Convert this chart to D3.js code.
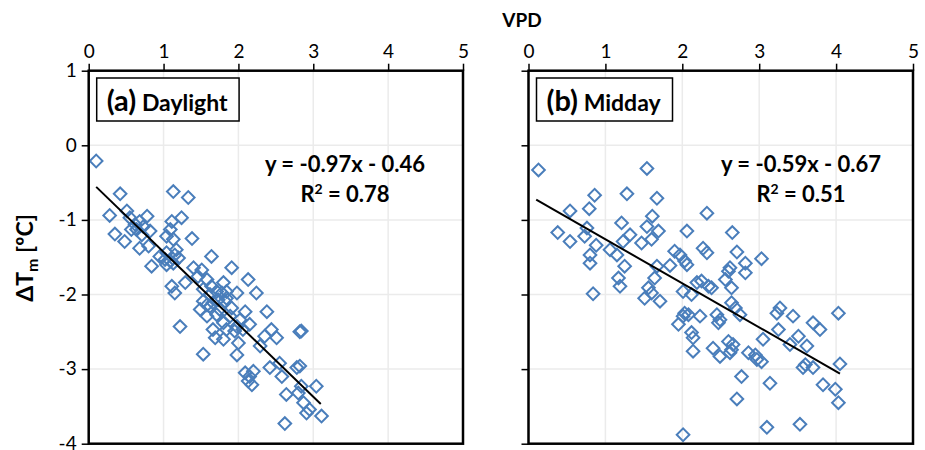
<!DOCTYPE html>
<html>
<head>
<meta charset="utf-8">
<script src="https://cdnjs.cloudflare.com/ajax/libs/d3/7.8.5/d3.min.js"></script>
<style>
body { margin: 0; background: #fff; }
text { font-family: Lato, "Open Sans", sans-serif; }
</style>
</head>
<body>
<svg id="myChart" width="925" height="450"></svg>
<script>
// axis ticks
const xTicks = [0, 1, 2, 3, 4, 5];
const yTicks = [1, 0, -1, -2, -3, -4];

// panel texts and fitted lines
const panelLabels = ["(a)", "(b)"];
const panelNames = ["Daylight", "Midday"];
const equations = ["y = -0.97x - 0.46", "y = -0.59x - 0.67"];
const rSquared = ["0.78", "0.51"];
const fitSlope = [-0.97, -0.59];
const fitIntercept = [-0.46, -0.67];
const fitFrom = [0.1, 0.1];
const fitTo = [3.1, 4.05];

// (a) daylight
const daylightVpd = [0.10, 0.42, 0.28, 0.51, 0.55, 0.35, 0.48, 0.62, 0.68, 0.78, 0.73, 0.64, 0.57, 0.71, 0.68,
    0.80, 0.82, 0.84, 0.95, 1.04, 1.13, 1.33, 1.11, 1.24, 1.09, 1.04, 1.38, 1.13, 1.17, 1.15, 1.20, 1.09, 1.04,
    1.64, 1.40, 1.51, 1.91, 2.13, 1.29, 1.46, 1.58, 1.64, 1.80, 1.71, 1.11, 1.15, 1.84, 1.98, 2.24,
    1.13, 1.02, 1.22, 1.53, 2.38, 2.09, 2.15, 2.02, 1.95, 1.84, 1.69, 1.80, 2.00, 1.98, 1.66, 1.58, 1.49, 1.62,
    1.75, 1.71, 1.53, 1.82, 1.91, 2.06, 2.29, 2.35, 2.44, 2.51, 2.84, 2.82, 2.09, 2.15, 2.13, 2.18, 2.20, 2.42,
    2.55, 2.58, 2.78, 2.82, 2.64, 2.80, 2.84, 3.04, 2.87, 2.91, 2.95, 3.11, 2.62, 1.53, 1.62, 1.73, 1.78, 1.84,
    1.58, 1.66, 1.89, 1.80, 1.98];
const daylightDt = [-0.21, -0.65, -0.94, -0.88, -0.97, -1.19, -1.29, -1.06, -1.02, -0.95, -1.09, -1.13, -1.13, -1.20, -1.38,
    -1.35, -1.15, -1.62, -1.49, -1.44, -0.62, -0.70, -1.02, -0.97, -1.13, -1.22, -1.25, -1.26, -1.40, -1.47, -1.51, -1.55, -1.60,
    -1.49, -1.64, -1.67, -1.64, -1.80, -1.84, -1.76, -1.80, -1.89, -1.84, -1.96, -1.89, -1.98, -1.96, -1.98, -1.98,
    -1.58, -1.53, -2.43, -2.80, -2.23, -2.23, -2.40, -2.34, -2.49, -2.47, -2.58, -2.60, -2.65, -2.81, -2.47, -2.29, -2.20, -2.16,
    -2.20, -2.27, -2.09, -2.09, -2.18, -2.47, -2.69, -2.56, -2.47, -2.58, -2.49, -2.50, -3.05, -3.10, -3.16, -3.21, -3.03, -2.98,
    -2.92, -3.10, -2.98, -2.96, -3.34, -3.32, -3.23, -3.23, -3.45, -3.59, -3.54, -3.63, -3.73, -1.93, -2.00, -2.07, -1.98, -2.05,
    -2.14, -2.11, -2.29, -2.38, -2.43];

// (b) midday
const middayVpd = [0.13, 1.54, 0.86, 1.28, 1.67, 0.54, 0.79, 1.61, 2.32, 0.38, 0.54, 0.76, 0.73, 0.88, 1.21, 1.54,
    1.69, 1.32, 1.23, 1.47, 1.60, 2.06, 1.06, 1.15, 0.80, 0.80, 1.25, 1.67, 1.84, 1.90, 1.97, 2.03, 2.06, 2.27,
    2.32, 1.17, 1.19, 1.64, 1.56, 1.60, 1.51, 1.71, 0.84, 2.01, 2.12, 2.19, 2.25, 2.34, 2.65, 3.03, 2.71, 2.82,
    2.82, 2.62, 2.60, 2.56, 2.64, 2.38, 2.64, 2.69, 2.75, 2.45, 2.49, 2.47, 2.03, 2.01, 2.08, 2.23, 1.95, 2.12,
    2.14, 2.14, 2.40, 2.49, 2.60, 2.66, 2.64, 2.62, 2.86, 2.95, 2.97, 3.03, 3.05, 3.23, 3.27, 3.44, 3.25, 3.51,
    3.40, 3.62, 3.70, 3.79, 3.60, 3.57, 3.70, 4.03, 4.05, 2.77, 3.14, 3.83, 3.99, 4.03, 2.71, 3.10, 3.53, 2.01];
const middayDt = [-0.33, -0.31, -0.67, -0.65, -0.71, -0.88, -0.85, -0.95, -0.91, -1.17, -1.29, -1.11, -1.22, -1.34, -1.04, -1.09,
    -1.15, -1.20, -1.29, -1.31, -1.26, -1.15, -1.40, -1.47, -1.47, -1.58, -1.62, -1.62, -1.61, -1.42, -1.47, -1.55, -1.60, -1.38,
    -1.44, -1.78, -1.89, -1.78, -1.91, -1.98, -2.05, -2.09, -1.99, -1.96, -2.00, -1.84, -1.82, -1.89, -1.17, -1.52, -1.43, -1.58,
    -1.71, -1.64, -1.69, -1.80, -1.91, -1.91, -2.11, -2.18, -2.27, -2.27, -2.34, -2.38, -2.25, -2.29, -2.27, -2.29, -2.40, -2.51,
    -2.58, -2.76, -2.72, -2.83, -2.63, -2.67, -2.74, -2.78, -2.78, -2.81, -2.87, -2.90, -2.60, -2.25, -2.18, -2.29, -2.47, -2.56,
    -2.67, -2.69, -2.38, -2.47, -2.94, -2.98, -2.98, -2.25, -2.93, -3.10, -3.19, -3.21, -3.27, -3.45, -3.40, -3.78, -3.74, -3.88];

class VpdPanels {

    constructor() {
        this.render();
    }

    render() {
        let svg = d3.select("#myChart");

        let y = d3.scaleLinear().domain([1, -4]).range([70.7, 443.7]);
        let panels = [
            { x: d3.scaleLinear().domain([0, 5]).range([88.7, 463]), vpd: daylightVpd, dt: daylightDt, showY: true, eqX: 345 },
            { x: d3.scaleLinear().domain([0, 5]).range([528.5, 913]), vpd: middayVpd, dt: middayDt, showY: false, eqX: 801 }
        ];

        let diamond = d3.symbol().type(d3.symbolSquare).size(80);

        panels.forEach(function(p, i) {
            let x = p.x;
            let g = svg.append("g");

            // grid
            g.selectAll(".vgrid").data(xTicks).enter().append("line")
                .attr("x1", d => x(d)).attr("x2", d => x(d))
                .attr("y1", y(1)).attr("y2", y(-4))
                .attr("stroke", "#ebebeb").attr("stroke-width", 1.5);
            g.selectAll(".hgrid").data(yTicks).enter().append("line")
                .attr("x1", x(0)).attr("x2", x(5))
                .attr("y1", d => y(d)).attr("y2", d => y(d))
                .attr("stroke", "#ebebeb").attr("stroke-width", 1.5);

            // points
            g.selectAll(".pt").data(d3.range(p.vpd.length)).enter().append("path")
                .attr("d", diamond)
                .attr("transform", k => "translate(" + x(p.vpd[k]) + "," + y(p.dt[k]) + ") rotate(45)")
                .attr("fill", "none")
                .attr("stroke", "#4a7ebb")
                .attr("stroke-width", 2);

            // fitted line
            let f = d => fitSlope[i] * d + fitIntercept[i];
            g.append("line")
                .attr("x1", x(fitFrom[i])).attr("y1", y(f(fitFrom[i])))
                .attr("x2", x(fitTo[i])).attr("y2", y(f(fitTo[i])))
                .attr("stroke", "#000").attr("stroke-width", 2);

            // frame
            g.append("rect")
                .attr("x", x(0)).attr("y", y(1))
                .attr("width", x(5) - x(0)).attr("height", y(-4) - y(1))
                .attr("fill", "none").attr("stroke", "#000").attr("stroke-width", 2.5);

            // axes
            let top = g.append("g").attr("transform", "translate(0," + y(1) + ")")
                .call(d3.axisTop(x).tickValues(xTicks).tickSize(7).tickPadding(6).tickFormat(d => String(d)));
            let left = g.append("g").attr("transform", "translate(" + x(0) + ",0)")
                .call(d3.axisLeft(y).tickValues(yTicks).tickSize(7).tickPadding(5)
                    .tickFormat(d => p.showY ? String(d) : ""));
            [top, left].forEach(function(a) {
                a.select(".domain").remove();
                a.selectAll(".tick line").attr("stroke", "#000").attr("stroke-width", 1.5);
                a.selectAll(".tick text").attr("fill", "#000").attr("font-size", 19)
                    .attr("font-family", "Lato, 'Open Sans', sans-serif");
            });
            left.selectAll(".tick text").attr("dy", "0.3em");

            // equation
            g.append("text").attr("x", p.eqX).attr("y", 172).attr("text-anchor", "middle")
                .attr("font-size", 22).attr("font-weight", "bold").text(equations[i]);
            let r2 = g.append("text").attr("x", p.eqX).attr("y", 202).attr("text-anchor", "middle")
                .attr("font-size", 22).attr("font-weight", "bold");
            r2.append("tspan").text("R");
            r2.append("tspan").attr("font-size", 14).attr("dy", -8).text("2");
            r2.append("tspan").attr("dy", 8).text(" = " + rSquared[i]);

            // panel label box
            let lx = x(0) + 18;
            let label = g.append("text").attr("x", lx).attr("y", 111).attr("font-weight", "bold");
            label.append("tspan").attr("font-size", 29).text(panelLabels[i]);
            label.append("tspan").attr("font-size", 23).text(" " + panelNames[i]);
            let bb = label.node().getBBox();
            g.insert("rect", () => label.node())
                .attr("x", bb.x - 10).attr("y", 78)
                .attr("width", bb.width + 21).attr("height", 43)
                .attr("fill", "#fff").attr("stroke", "#000").attr("stroke-width", 1.5);
        });

        svg.append("text").attr("x", 522).attr("y", 27).attr("text-anchor", "middle")
            .attr("font-size", 19).attr("font-weight", "bold").text("VPD");

        let yl = svg.append("text")
            .attr("transform", "translate(33,258) rotate(-90)")
            .attr("text-anchor", "middle").attr("font-size", 23).attr("font-weight", "bold");
        yl.append("tspan").text("ΔT");
        yl.append("tspan").attr("font-size", 16).attr("dy", 5).text("m");
        yl.append("tspan").attr("dy", -5).text(" [ºC]");
    }

}

new VpdPanels();
</script>
</body>
</html>
